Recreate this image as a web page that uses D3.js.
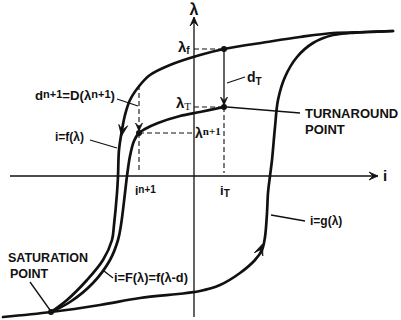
<!DOCTYPE html>
<html><head><meta charset="utf-8">
<script src="https://cdn.jsdelivr.net/npm/d3@7"></script>
<style>body{margin:0;background:#fff}svg{display:block}</style>
</head><body><svg id="c" width="401" height="320"></svg>
<script>
// ---- data: points as [i, λ] ----
const branchF = [ // i = f(λ), upper descending branch
  [19.9,14.5],[17.3,14.4],[13.9,14.3],[10.6,13.9],[7.3,13.4],[3.0,12.7],[0.6,12.1],
  [-2.4,11.1],[-4.4,10.1],[-5.4,9.1],[-6.4,7.6],[-6.9,6.1],[-7.2,4.6],[-7.5,2.6],
  [-7.6,0],[-7.7,-1.7],[-8.0,-4.9],[-8.2,-6.4],[-9.1,-8.4],[-10.7,-10.4],[-12.7,-12.4],[-14.3,-13.6]
];
const branchFd = [ // i = F(λ) = f(λ-d), from turnaround point
  [3.0,6.9],[0.6,6.4],[-1.4,6.0],[-3.6,5.3],[-4.9,4.7],[-5.5,4.3],[-6.0,3.5],[-6.4,2.0],
  [-6.7,0],[-6.9,-1.7],[-7.3,-4.9],[-7.6,-6.4],[-8.4,-8.4],[-10.1,-10.7],[-12.4,-12.6],[-14.3,-13.6]
];
const branchG = [ // i = g(λ), lower ascending branch
  [-19.1,-14.1],[-14.3,-13.6],[-9.4,-12.9],[-5.4,-12.2],[0.6,-11.5],[2.6,-10.9],[4.6,-9.7],
  [6.1,-8.4],[6.8,-7.4],[7.1,-6.1],[7.3,-3.7],[7.4,-1.7],[7.6,0],[7.8,1.6],[8.1,4.9],
  [8.4,7.6],[9.1,9.9],[10.3,11.9],[11.9,13.3],[13.9,14.1],[15.6,14.3],[17.3,14.4],[19.9,14.5]
];
const lambdaF = 12.7, lambdaT = 6.9, lambdaN1 = 4.3;
const iT = 3.0, iN1 = -5.5;
const fAtN1 = 9.1;            // λ on f branch at i = iN1
const saturation = [-14.3, -13.6];

// ---- scales ----
const x = d3.scaleLinear().domain([-19.4, 20.7]).range([0, 401]);
const y = d3.scaleLinear().domain([-14.4, 17.6]).range([320, 0]);

const svg = d3.select("#c");
const line = d3.line().x(d => x(d[0])).y(d => y(d[1])).curve(d3.curveCatmullRom.alpha(0.5));

// axes
const axisG = svg.append("g").attr("stroke", "#111").attr("stroke-width", 1.3).attr("fill", "none");
axisG.append("line").attr("x1", x(-18.4)).attr("x2", x(18.4)).attr("y1", y(0)).attr("y2", y(0));
axisG.append("line").attr("x1", x(0)).attr("x2", x(0)).attr("y1", y(-14.1)).attr("y2", y(15.9));

function arrow(px, py, ang, L, W, fill) {
  const p = `M0,0L${-L},${-W}L${-L*0.55},0L${-L},${W}Z`;
  svg.append("path").attr("d", p)
    .attr("transform", `translate(${px},${py}) rotate(${ang*180/Math.PI})`)
    .attr("fill", fill || "#111").attr("stroke", "#111").attr("stroke-width", 0.8).attr("stroke-linejoin", "miter");
}
arrow(x(18.4), y(0), 0, 9, 4);
arrow(x(0), y(15.9), -Math.PI/2, 9, 4);

// dashed guides
const dash = svg.append("g").attr("stroke", "#111").attr("stroke-width", 1.1).attr("stroke-dasharray", "5,3").attr("fill", "none");
dash.append("line").attr("x1", x(0)).attr("x2", x(iT)).attr("y1", y(lambdaF)).attr("y2", y(lambdaF));
dash.append("line").attr("x1", x(0)).attr("x2", x(iT)).attr("y1", y(lambdaT)).attr("y2", y(lambdaT));
dash.append("line").attr("x1", x(iT)).attr("x2", x(iT)).attr("y1", y(lambdaT)).attr("y2", y(0) - 3);
dash.append("line").attr("x1", x(iN1)).attr("x2", x(0)).attr("y1", y(lambdaN1)).attr("y2", y(lambdaN1));
dash.append("line").attr("x1", x(iN1)).attr("x2", x(iN1)).attr("y1", y(fAtN1)).attr("y2", y(0) - 3);

// dT arrow (solid)
svg.append("line").attr("x1", x(iT)).attr("x2", x(iT)).attr("y1", y(lambdaF)).attr("y2", y(lambdaT) - 3)
  .attr("stroke", "#111").attr("stroke-width", 1.3);
arrow(x(iT), y(lambdaT) - 2, Math.PI/2, 8, 3.5);
// dn+1 arrow head
arrow(x(iN1), y(lambdaN1) - 2, Math.PI/2, 8, 3.5);

// curves
const curves = svg.append("g").attr("fill", "none").attr("stroke", "#111").attr("stroke-width", 2.7).attr("stroke-linejoin", "round").attr("stroke-linecap", "round");
curves.append("path").attr("d", line(branchF));
curves.append("path").attr("d", line(branchFd));
curves.append("path").attr("d", line(branchG));

// direction arrows on curves
function curveArrow(a, b, L, W) {
  const ang = Math.atan2(y(b[1]) - y(a[1]), x(b[0]) - x(a[0]));
  arrow(x(b[0]), y(b[1]), ang, L, W);
}
curveArrow([-7.0, 5.6], [-7.25, 4.0], 11, 4.5);
curveArrow([6.4, -8.0], [6.85, -6.8], 11, 4.5);

// points
const pts = [[iT, lambdaF], [iT, lambdaT], [iN1, lambdaN1], saturation];
svg.append("g").selectAll("circle").data(pts).join("circle")
  .attr("cx", d => x(d[0])).attr("cy", d => y(d[1])).attr("r", 3).attr("fill", "#111");

// leader lines
const leaders = [
  [[x(iT) + 3, 83], [245, 77]],
  [[x(iT) + 3, y(lambdaT)], [300, 113]],
  [[117, 99], [138, 106]],
  [[90, 140], [117, 148]],
  [[104, 271], [113, 278]],
  [[271, 215], [305, 221]],
  [[30, 282], [x(saturation[0]) - 1, y(saturation[1]) - 2]]
];
svg.append("g").selectAll("line").data(leaders).join("line")
  .attr("x1", d => d[0][0]).attr("y1", d => d[0][1]).attr("x2", d => d[1][0]).attr("y2", d => d[1][1])
  .attr("stroke", "#111").attr("stroke-width", 1.3);

// text
const sans = "'Liberation Sans', Arial, sans-serif";
const serif = "'Liberation Serif', 'DejaVu Serif', serif";
function txt(tx, ty, parts, opts) {
  opts = opts || {};
  const t = svg.append("text").attr("x", tx).attr("y", ty).attr("font-family", opts.family || sans)
    .attr("font-weight", opts.weight || "bold").attr("font-size", opts.size || 12).attr("fill", "#111")
    .attr("text-anchor", opts.anchor || "start");
  parts.forEach(p => {
    const s = t.append("tspan").text(p.t);
    if (p.size) s.attr("font-size", p.size);
    if (p.dy) s.attr("dy", p.dy);
    if (p.family) s.attr("font-family", p.family);
    if (p.weight) s.attr("font-weight", p.weight);
  });
  if (opts.fit) { // scale font sizes so the label spans the given width
    const w = t.node().getComputedTextLength();
    const k = opts.fit / w;
    t.attr("font-size", (opts.size || 12) * k);
    t.selectAll("tspan").each(function() {
      const fs = this.getAttribute("font-size");
      if (fs) this.setAttribute("font-size", +fs * k);
    });
  }
  return t;
}
// axis labels
txt(x(0), 15, [{t: "λ"}], {size: 16, anchor: "middle"});
txt(x(18.4) + 5, y(0) + 5, [{t: "i"}], {size: 15});
// value labels
txt(x(0) - 16, y(lambdaF) + 3, [{t: "λ", size: 15}, {t: "f", size: 10, dy: 2}]);
txt(x(0) - 18, y(lambdaT) + 1, [{t: "λ", size: 15}, {t: "T", size: 11, dy: 2, family: serif, weight: "normal"}]);
txt(x(0) + 1, y(lambdaN1) + 5, [{t: "λ", size: 14}, {t: "n+1", size: 11, dy: -3, family: serif, weight: "bold"}]);
txt(x(iN1) - 4, y(0) + 19, [{t: "i", size: 12}, {t: "n+1", size: 10, dy: -2}]);
txt(x(iT) - 4, y(0) + 19, [{t: "i", size: 13}, {t: "T", size: 10, dy: 2}]);
txt(247, 82, [{t: "d", size: 14}, {t: "T", size: 10, dy: 3}]);
// annotations
txt(35, 100, [{t: "d", size: 12}, {t: "n+1", size: 10, dy: -2}, {t: "=D(λ", size: 12, dy: 2}, {t: "n+1", size: 10, dy: -2}, {t: ")", size: 12, dy: 2}], {fit: 80});
txt(55, 141, [{t: "i=f(λ)"}]);
txt(114, 282, [{t: "i=F(λ)=f(λ-d)"}], {size: 12.8});
txt(310, 225, [{t: "i=g(λ)"}]);
txt(305, 118, [{t: "TURNAROUND"}], {size: 13});
txt(305, 134, [{t: "POINT"}], {size: 13});
txt(8, 262, [{t: "SATURATION"}], {size: 12.5});
txt(10, 278, [{t: "POINT"}], {size: 12.5});
</script></body></html>
